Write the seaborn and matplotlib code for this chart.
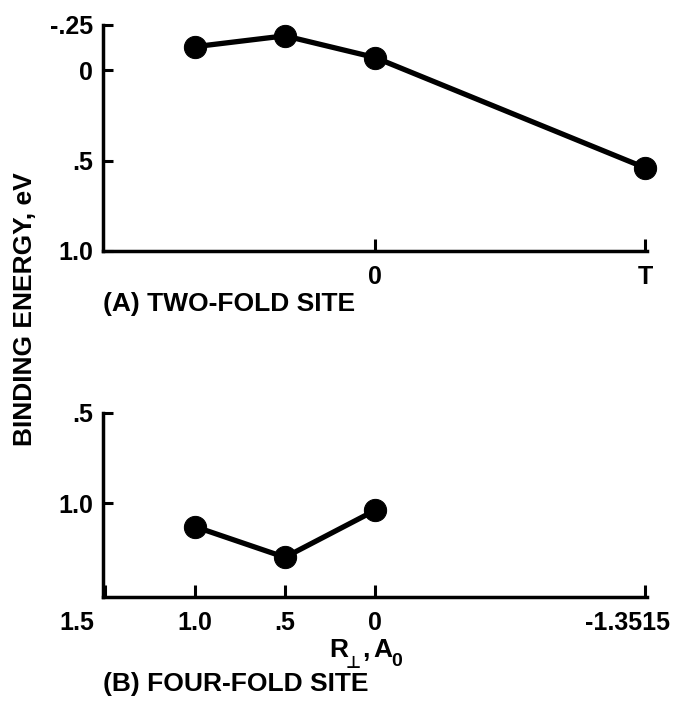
import matplotlib
matplotlib.use("Agg")
import matplotlib.pyplot as plt
import matplotlib.transforms as mtransforms
import seaborn as sns
import pandas as pd

# Binding energy (eV) versus perpendicular displacement R (A0)
r_twofold = [1.0, 0.5, 0.0, -1.5]
e_twofold = [-0.13, -0.19, -0.07, 0.54]

r_fourfold = [1.0, 0.5, 0.0]
e_fourfold = [1.13, 1.30, 1.04]

# Axis ticks and their labels
twofold_xticks = [0.0, -1.5]
twofold_xlabels = ["0", "T"]
twofold_yticks = [-0.25, 0.0, 0.5, 1.0]
twofold_ylabels = ["-.25", "0", ".5", "1.0"]

fourfold_xticks = [1.5, 1.0, 0.5, 0.0, -1.5]
fourfold_xlabels = ["1.5", "1.0", ".5", "0", "-1.3515"]
fourfold_yticks = [0.5, 1.0]
fourfold_ylabels = [".5", "1.0"]

sns.set_style("ticks")
plt.rcParams["font.family"] = ["Liberation Sans", "DejaVu Sans"]
plt.rcParams["font.weight"] = "bold"
plt.rcParams["text.color"] = "black"

W, H = 682, 704
fig = plt.figure(figsize=(W / 100, H / 100), dpi=100)
fig.patch.set_facecolor("white")


def frac_box(left, top, right, bottom):
    return [left / W, 1 - bottom / H, (right - left) / W, (bottom - top) / H]


def fig_xy(px, py):
    return px / W, 1 - py / H


ax_a = fig.add_axes(frac_box(103, 25, 647, 251))
ax_b = fig.add_axes(frac_box(103, 413, 647, 597))

df_a = pd.DataFrame({"R": r_twofold, "E": e_twofold})
df_b = pd.DataFrame({"R": r_fourfold, "E": e_fourfold})

for ax, df in ((ax_a, df_a), (ax_b, df_b)):
    sns.lineplot(data=df, x="R", y="E", ax=ax, sort=False, color="black",
                 linewidth=3.8, marker="o", markersize=16,
                 markeredgecolor="black", markerfacecolor="black",
                 clip_on=False, zorder=5)
    ax.set_facecolor("white")
    for side in ("top", "right"):
        ax.spines[side].set_visible(False)
    for side in ("left", "bottom"):
        ax.spines[side].set_linewidth(2.5)
        ax.spines[side].set_color("black")
    ax.set_xlim(1.51, -1.51)
    ax.set_xlabel("")
    ax.set_ylabel("")
    ax.tick_params(axis="both", direction="in", width=2.2, colors="black",
                   labelsize=18)
    ax.tick_params(axis="y", length=7, pad=7)
    ax.tick_params(axis="x", length=9, pad=10)

# Panel A: two-fold site
ax_a.set_ylim(1.0, -0.25)
ax_a.set_yticks(twofold_yticks)
ax_a.set_yticklabels(twofold_ylabels, fontweight="bold")
ax_a.set_xticks(twofold_xticks)
ax_a.set_xticklabels(twofold_xlabels, fontweight="bold")

# Panel B: four-fold site
ax_b.set_ylim(1.52, 0.5)
ax_b.set_yticks(fourfold_yticks)
ax_b.set_yticklabels(fourfold_ylabels, fontweight="bold")
ax_b.set_xticks(fourfold_xticks)
ax_b.set_xticklabels(fourfold_xlabels, fontweight="bold")
xl = ax_b.get_xticklabels()
xl[0].set_transform(xl[0].get_transform() +
                    mtransforms.ScaledTranslation(-0.28, 0, fig.dpi_scale_trans))
xl[-1].set_transform(xl[-1].get_transform() +
                     mtransforms.ScaledTranslation(-0.18, 0, fig.dpi_scale_trans))

fig.text(*fig_xy(103, 304), "(A) TWO-FOLD SITE", fontsize=19,
         fontweight="bold", ha="left", va="center", color="black")
fig.text(*fig_xy(103, 684), "(B) FOUR-FOLD SITE", fontsize=19,
         fontweight="bold", ha="left", va="center", color="black")

# x-axis quantity R-perpendicular in units of A0, built from pieces so
# the subscripts sit low
fig.text(*fig_xy(329, 657), "R", fontsize=19, fontweight="bold",
         ha="left", va="baseline")
fig.text(*fig_xy(346, 668), "\u22a5", fontsize=12, fontweight="bold",
         family="DejaVu Sans", ha="left", va="baseline")
fig.text(*fig_xy(362, 657), ",", fontsize=19, fontweight="bold",
         ha="left", va="baseline")
fig.text(*fig_xy(373, 657), "A", fontsize=19, fontweight="bold",
         ha="left", va="baseline")
fig.text(*fig_xy(391, 666), "0", fontsize=14, fontweight="bold",
         ha="left", va="baseline")

fig.text(*fig_xy(25, 309), "BINDING ENERGY, eV", fontsize=19,
         fontweight="bold", rotation=90, ha="center", va="center",
         color="black")

fig.savefig("out.png", dpi=100, facecolor="white")
